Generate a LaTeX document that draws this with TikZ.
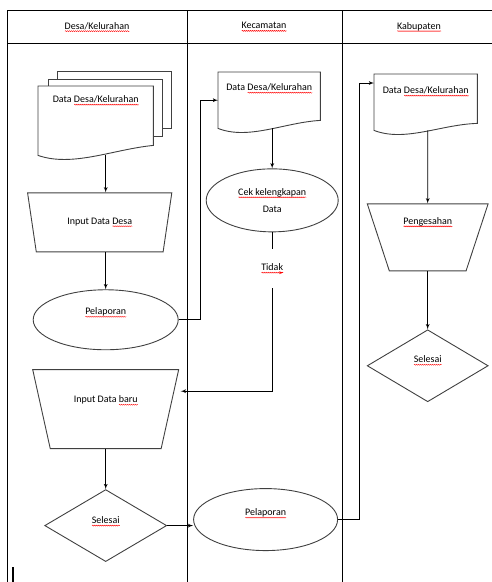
\documentclass[tikz,border=0pt]{standalone}
\usepackage{fontspec}
\setmainfont{Carlito}
\usetikzlibrary{arrows,shapes}
\usetikzlibrary{positioning}
\usetikzlibrary{calc,backgrounds,decorations.pathmorphing}

% red spelling wave under a word
\newsavebox\sqbox
\newlength\sqw
\newcommand\sq[1]{\sbox\sqbox{#1}\setlength\sqw{\wd\sqbox}%
  \rlap{\tikz[baseline=0pt]\draw[red, line width=0.4pt, decorate, decoration={snake, amplitude=0.5pt, segment length=2pt}] (0pt,-2pt) -- (\sqw,-2pt);}\usebox\sqbox}

\begin{document}
\begin{tikzpicture}[x=1pt,y=1pt,>=latex',
  font=\fontsize{10}{12}\selectfont,
  frame/.style={draw=black, line width=0.9pt},
  line/.style={draw=black!75, line width=0.9pt},
  docbox/.style={inner sep=3pt, anchor=north west},
  oval/.style={ellipse, line, inner sep=0pt},
  trap/.style={trapezium, shape border rotate=180, trapezium stretches=true, line, inner sep=0pt},
  endbox/.style={diamond, line, inner sep=0pt},
  lift/.style={text height=7pt, text depth=#1},
  conn/.style={->, draw=black, line width=0.8pt}]
\useasboundingbox (0,0) rectangle (492,-582);
% lanes
\draw[frame] (7,-582) -- (7,-10) -- (492,-10);
\draw[frame] (7,-43) -- (492,-43);
\draw[frame] (187,-10) -- (187,-582);
\draw[frame] (342,-10) -- (342,-582);
\node (hdesa) at (97,-27) {\sq{Desa/Kelurahan}};
\node (hkec) at (264,-27) {\sq{Kecamatan}};
\node (hkab) at (419,-27) {\sq{Kabupaten}};
% Desa/Kelurahan
\node[docbox, minimum width=115pt, text height=13.5pt, text depth=49.5pt] (ddoc) at (38,-86) {Data \sq{Desa/Kelurahan}};
\node[trap, trapezium angle=64, minimum width=145pt, minimum height=59pt, below=37pt of ddoc, xshift=4pt] (inD) {Input Data \sq{Desa}};
\node[oval, minimum width=145pt, minimum height=60pt, lift=17pt, below=37pt of inD, xshift=6pt] (pelD) {\sq{Pelaporan}};
\node[trap, trapezium angle=69.5, minimum width=146pt, minimum height=79pt, lift=20pt, below=19pt of pelD] (inB) {Input Data \sq{baru}};
\node[endbox, minimum width=122pt, minimum height=72pt, lift=11pt, below=40pt of inB] (selD) {\sq{Selesai}};
% Kecamatan
\node[docbox, minimum width=102pt, text height=15.5pt, text depth=34.5pt] (kdoc) at (218,-72) {Data \sq{Desa/Kelurahan}};
\node[oval, minimum width=132pt, minimum height=63pt, align=center, below=40pt of kdoc, xshift=3pt] (cek) {\sq{Cek kelengkapan}\\[5pt]Data};
\node[oval, minimum width=144pt, minimum height=62pt, lift=15pt, right=26pt of selD, yshift=6pt] (pelK) {\sq{Pelaporan}};
% Kabupaten
\node[docbox, minimum width=103pt, text height=16.5pt, text depth=33.5pt] (bdoc) at (374,-74) {Data \sq{Desa/Kelurahan}};
\node[trap, trapezium angle=70.7, minimum width=121pt, minimum height=67pt, lift=33pt, below=73pt of bdoc, xshift=2pt] (pgs) {\sq{Pengesahan}};
\node[endbox, minimum width=121pt, minimum height=72pt, lift=13pt, below=58pt of pgs] (selK) {\sq{Selesai}};
% document outlines
\begin{scope}[on background layer]
\draw[line, fill=white] ($(ddoc.north west)+(19,15)$) rectangle ($(ddoc.north east)+(18,-42)$);
\draw[line, fill=white] ($(ddoc.north west)+(10,7)$) rectangle ($(ddoc.north east)+(9,-50)$);
\foreach \d/\r in {ddoc/10,kdoc/8,bdoc/7}
  \draw[line, fill=white] (\d.north west) -- (\d.south west)
    .. controls ($(\d.south west)!0.3!(\d.south east)+(0,-12)$) and ($(\d.south west)!0.65!(\d.south east)+(0,6)$) .. ($(\d.south east)+(0,\r)$) -- (\d.north east) -- cycle;
\end{scope}
% connectors
\draw[conn] (ddoc.south -| pelD) -- (inD.north -| pelD);
\draw[conn] (inD.south -| pelD) -- (pelD.north);
\draw[conn] (pelD.east) -- ++(22,0) |- (kdoc.west);
\draw[conn] (kdoc.south -| cek) -- (cek.north);
\draw[conn] (cek.south) |- node[pos=0.114, fill=white, inner xsep=1pt, inner ysep=15pt] (tidak) {\sq{Tidak}} ($(inB.north)+(75,-22)$);
\draw[conn] (inB.south -| selD) -- (selD.north);
\draw[conn] (selD.east) -- (selD.east -| pelK.west);
\draw[conn] (pelK.east) -- ++(21,0) |- ($(bdoc.north west)+(0,-9)$);
\draw[conn] (bdoc.south -| pgs) -- (pgs.north);
\draw[conn] (pgs.south) -- (selK.north);
\draw[line width=1.2pt] (13,-567) -- (13,-582);
\end{tikzpicture}
\end{document}
